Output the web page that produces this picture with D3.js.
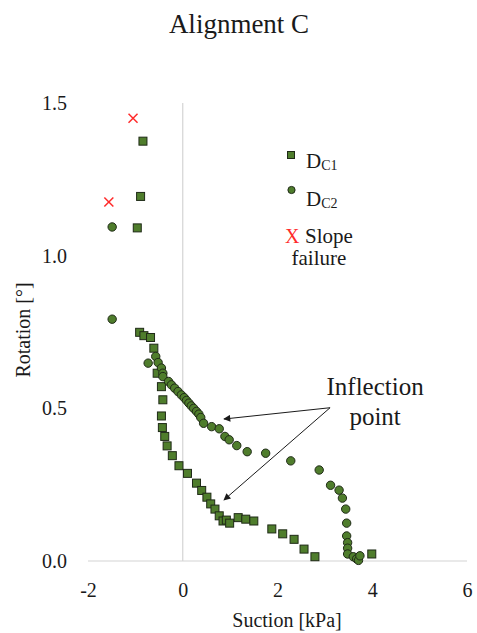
<!DOCTYPE html>
<html>
<head>
<meta charset="utf-8">
<script src="https://cdn.jsdelivr.net/npm/d3@7"></script>
<style>
html,body{margin:0;padding:0;background:#fff;}
svg{display:block;}
</style>
</head>
<body>
<div id="chart"></div>
<script>
// ---- Data ----
const xTicks = [-2, 0, 2, 4, 6];
const yTicks = [0, 0.5, 1.0, 1.5];

const dc1X = [-0.84,-0.89,-0.96,-0.91,-0.82,-0.68,-0.61,-0.54,-0.45,-0.42,-0.45,-0.43,-0.38,-0.33,-0.22,-0.08,0.10,0.29,0.40,0.51,0.59,0.68,0.77,0.85,0.92,0.99,1.17,1.33,1.50,1.88,2.11,2.35,2.56,2.79,3.99];
const dc1Y = [1.375,1.194,1.091,0.749,0.738,0.732,0.697,0.615,0.571,0.528,0.475,0.437,0.408,0.377,0.345,0.312,0.287,0.255,0.231,0.209,0.187,0.170,0.148,0.131,0.134,0.124,0.142,0.137,0.131,0.105,0.089,0.071,0.039,0.014,0.023];

const dc2X = [-1.49,-1.49,-0.73,-0.57,-0.52,-0.45,-0.42,-0.42,-0.30,-0.24,-0.17,-0.10,-0.03,0.03,0.08,0.13,0.18,0.23,0.29,0.34,0.38,0.44,0.61,0.77,0.89,0.98,1.14,1.36,1.75,2.28,2.88,3.12,3.30,3.37,3.44,3.46,3.46,3.48,3.48,3.48,3.60,3.67,3.71,3.74];
const dc2Y = [1.094,0.792,0.648,0.670,0.650,0.632,0.615,0.604,0.588,0.577,0.566,0.555,0.544,0.535,0.526,0.517,0.508,0.500,0.490,0.481,0.470,0.451,0.440,0.433,0.408,0.397,0.378,0.358,0.353,0.328,0.298,0.248,0.232,0.206,0.170,0.124,0.082,0.060,0.042,0.023,0.014,0.007,0.002,0.017];

const failX = [-1.05, -1.56];
const failY = [1.45, 1.176];

// annotation (data coordinates)
const annText = ["Inflection", "point"];
const annTextPos = [[4.06, 0.544], [4.06, 0.447]];
const arrowFrom = [3.11, 0.502];
const arrowTo = [[0.87, 0.465], [0.87, 0.200]];

// ---- Layout ----
const FONT = "Liberation Serif";
const INK = "#1a1a1a";
const W = 477, H = 633;
const svg = d3.select("#chart").append("svg").attr("width", W).attr("height", H)
  .attr("font-family", FONT);
svg.append("rect").attr("width", W).attr("height", H).attr("fill", "#fff");

const x = d3.scaleLinear().domain([-2, 6]).range([88, 467]);
const y = d3.scaleLinear().domain([0, 1.5]).range([561, 103]);

const green = "#4f7d2c", edge = "#1f2a17", red = "#ff2b2b";

function txt(sel) { return sel.attr("font-family", FONT).attr("fill", INK); }

// zero lines
svg.append("line").attr("x1", x(0)).attr("x2", x(0)).attr("y1", y(0)).attr("y2", y(1.5))
  .attr("stroke", "#d4d4d4").attr("stroke-width", 1.2);
svg.append("line").attr("x1", x(-2)).attr("x2", x(6)).attr("y1", y(0)).attr("y2", y(0))
  .attr("stroke", "#d4d4d4").attr("stroke-width", 1.2);

// axes
const xAxis = svg.append("g").attr("transform", `translate(0,${y(0)})`)
  .call(d3.axisBottom(x).tickValues(xTicks).tickSize(0).tickPadding(22).tickFormat(d => String(d)));
xAxis.attr("font-family", FONT).attr("font-size", 20);
xAxis.select(".domain").remove();
txt(xAxis.selectAll("text")).attr("font-size", 20);

const yAxis = svg.append("g").attr("transform", `translate(${x(-2)},0)`)
  .call(d3.axisLeft(y).tickValues(yTicks).tickSize(0).tickPadding(21).tickFormat(d3.format(".1f")));
yAxis.attr("font-family", FONT).attr("font-size", 20);
yAxis.select(".domain").remove();
txt(yAxis.selectAll("text")).attr("font-size", 20);

// titles
txt(svg.append("text")).attr("x", 239).attr("y", 33).attr("text-anchor", "middle")
  .attr("font-size", 27).text("Alignment C");
txt(svg.append("text")).attr("x", 287).attr("y", 627).attr("text-anchor", "middle")
  .attr("font-size", 20).text("Suction [kPa]");
txt(svg.append("text")).attr("transform", "translate(30,330) rotate(-90)").attr("text-anchor", "middle")
  .attr("font-size", 20).text("Rotation [°]");

// series DC1 (squares)
const s = 8;
svg.append("g").selectAll("rect").data(d3.range(dc1X.length)).join("rect")
  .attr("x", i => x(dc1X[i]) - s / 2).attr("y", i => y(dc1Y[i]) - s / 2)
  .attr("width", s).attr("height", s)
  .attr("fill", green).attr("stroke", edge).attr("stroke-width", 1);

// series DC2 (circles)
svg.append("g").selectAll("circle").data(d3.range(dc2X.length)).join("circle")
  .attr("cx", i => x(dc2X[i])).attr("cy", i => y(dc2Y[i])).attr("r", 4.2)
  .attr("fill", green).attr("stroke", edge).attr("stroke-width", 1);

// slope failure crosses
const c = 4.5;
const fg = svg.append("g").attr("stroke", red).attr("stroke-width", 1.5);
d3.range(failX.length).forEach(i => {
  const px = x(failX[i]), py = y(failY[i]);
  fg.append("line").attr("x1", px - c).attr("y1", py - c).attr("x2", px + c).attr("y2", py + c);
  fg.append("line").attr("x1", px - c).attr("y1", py + c).attr("x2", px + c).attr("y2", py - c);
});

// annotation arrows
svg.append("defs").append("marker").attr("id", "ah")
  .attr("viewBox", "0 0 10 10").attr("refX", 9).attr("refY", 5)
  .attr("markerWidth", 9).attr("markerHeight", 7).attr("markerUnits", "userSpaceOnUse")
  .attr("orient", "auto")
  .append("path").attr("d", "M0,0 L10,5 L0,10 z").attr("fill", INK);
arrowTo.forEach(t => {
  svg.append("line").attr("x1", x(arrowFrom[0])).attr("y1", y(arrowFrom[1]))
    .attr("x2", x(t[0])).attr("y2", y(t[1]))
    .attr("stroke", INK).attr("stroke-width", 1).attr("marker-end", "url(#ah)");
});
annText.forEach((t, i) => {
  txt(svg.append("text")).attr("x", x(annTextPos[i][0])).attr("y", y(annTextPos[i][1]))
    .attr("text-anchor", "middle").attr("font-size", 25).text(t);
});

// legend
const lg = svg.append("g");
lg.append("rect").attr("x", 291 - 3.5).attr("y", 155 - 3.5).attr("width", 7).attr("height", 7)
  .attr("fill", green).attr("stroke", edge).attr("stroke-width", 1);
const t1 = txt(lg.append("text")).attr("x", 306).attr("y", 168).attr("font-size", 21);
t1.append("tspan").text("D");
t1.append("tspan").attr("dy", 2).attr("font-size", 14).text("C1");
lg.append("circle").attr("cx", 291.5).attr("cy", 190).attr("r", 3.6)
  .attr("fill", green).attr("stroke", edge).attr("stroke-width", 1);
const t2 = txt(lg.append("text")).attr("x", 306).attr("y", 206).attr("font-size", 21);
t2.append("tspan").text("D");
t2.append("tspan").attr("dy", 2).attr("font-size", 14).text("C2");
lg.append("text").attr("x", 285).attr("y", 243).attr("font-family", FONT).attr("font-size", 20)
  .attr("fill", red).text("X");
txt(lg.append("text")).attr("x", 305).attr("y", 243).attr("font-size", 21).text("Slope");
txt(lg.append("text")).attr("x", 291.5).attr("y", 265).attr("font-size", 21).text("failure");
</script>
</body>
</html>
